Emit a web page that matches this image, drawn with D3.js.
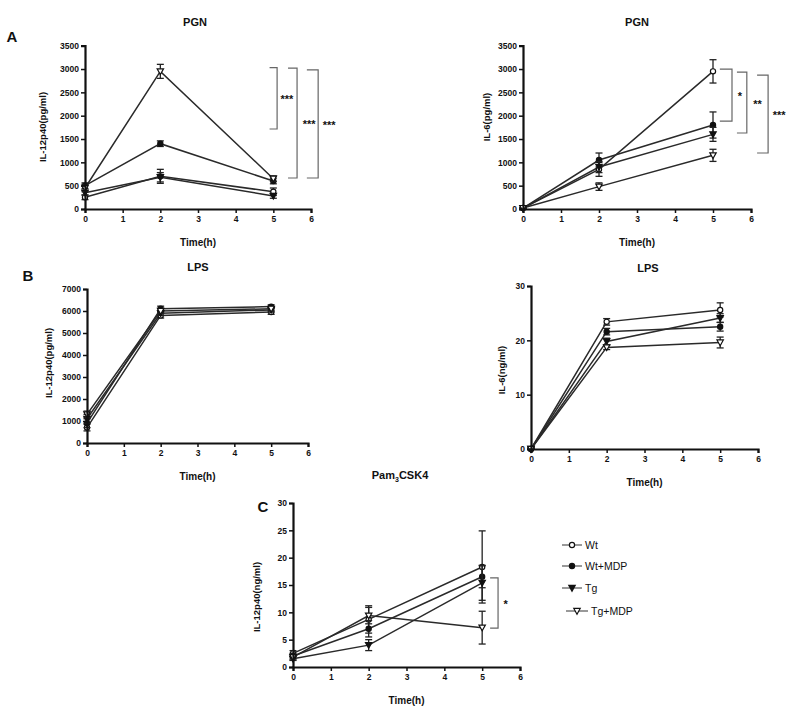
<!DOCTYPE html>
<html><head><meta charset="utf-8">
<script src="https://cdn.jsdelivr.net/npm/d3@7/dist/d3.min.js"></script>
<style>
body{margin:0;background:#fff;}
svg{display:block;}
text{font-family:"Liberation Sans",Arial,sans-serif;fill:#111;}
</style></head><body>
<svg id="c" width="800" height="716"></svg>
<script>
// ---------- data ----------
const times = [0, 2, 5];
const xTicks = [0, 1, 2, 3, 4, 5, 6];
const groups = ["Wt", "Wt+MDP", "Tg", "Tg+MDP"];

// Panel A left: IL-12p40 (pg/ml), PGN
const aL_Wt = [250, 700, 370],   aL_Wt_err = [50, 150, 80];
const aL_WtM = [500, 1400, 600], aL_WtM_err = [60, 60, 60];
const aL_Tg = [350, 680, 280],   aL_Tg_err = [50, 100, 50];
const aL_TgM = [450, 2950, 650], aL_TgM_err = [80, 150, 60];
const aL_yTicks = [0, 500, 1000, 1500, 2000, 2500, 3000, 3500];

// Panel A right: IL-6 (pg/ml), PGN
const aR_Wt = [20, 850, 2950],   aR_Wt_err = [10, 150, 250];
const aR_WtM = [20, 1050, 1800], aR_WtM_err = [10, 150, 280];
const aR_Tg = [20, 900, 1600],   aR_Tg_err = [10, 120, 150];
const aR_TgM = [20, 480, 1150],  aR_TgM_err = [10, 80, 130];
const aR_yTicks = [0, 500, 1000, 1500, 2000, 2500, 3000, 3500];

// Panel B left: IL-12p40 (pg/ml), LPS
const bL_Wt = [700, 5800, 5950],   bL_Wt_err = [150, 120, 100];
const bL_WtM = [900, 6100, 6200],  bL_WtM_err = [200, 120, 80];
const bL_Tg = [1100, 5900, 6050],  bL_Tg_err = [200, 100, 100];
const bL_TgM = [1300, 6000, 6100], bL_TgM_err = [150, 100, 100];
const bL_yTicks = [0, 1000, 2000, 3000, 4000, 5000, 6000, 7000];

// Panel B right: IL-6 (ng/ml), LPS
const bR_Wt = [0, 23.4, 25.6],  bR_Wt_err = [0.2, 0.6, 1.3];
const bR_WtM = [0, 21.6, 22.5], bR_WtM_err = [0.2, 0.6, 0.8];
const bR_Tg = [0, 19.8, 24.1],  bR_Tg_err = [0.2, 0.6, 0.8];
const bR_TgM = [0, 18.7, 19.6], bR_TgM_err = [0.2, 0.4, 1.0];
const bR_yTicks = [0, 10, 20, 30];

// Panel C: IL-12p40 (ng/ml), Pam3CSK4
const c_Wt = [2.5, 8.7, 18.3],  c_Wt_err = [0.5, 2.5, 6.6];
const c_WtM = [2.0, 7.0, 16.5], c_WtM_err = [0.5, 1.5, 2.0];
const c_Tg = [1.5, 4.0, 15.4],  c_Tg_err = [0.3, 1.0, 3.2];
const c_TgM = [1.8, 9.4, 7.2],  c_TgM_err = [0.5, 1.5, 3.0];
const c_yTicks = [0, 5, 10, 15, 20, 25, 30];

// significance brackets (time units, value units)
const aL_brackets = [
  {x0: 4.9, x1: 5.1, y0: 3030, y1: 1715, lx: 5.36, label: "***"},
  {x0: 5.39, x1: 5.63, y0: 3020, y1: 664, lx: 5.95, label: "***"},
  {x0: 5.89, x1: 6.19, y0: 2980, y1: 664, lx: 6.48, label: "***"}
];
const aR_brackets = [
  {x0: 5.18, x1: 5.5, y0: 3000, y1: 1885, lx: 5.71, label: "*"},
  {x0: 5.63, x1: 5.89, y0: 2934, y1: 1629, lx: 6.17, label: "**"},
  {x0: 6.16, x1: 6.45, y0: 2870, y1: 1200, lx: 6.74, label: "***"}
];
const c_brackets = [
  {x0: 5.21, x1: 5.42, y0: 16.3, y1: 7.1, lx: 5.62, label: "*"}
];

// ---------- drawing ----------
const svg = d3.select("#c");
const lineColor = "#2a2a2a";

function marker(g, kind, cx, cy) {
  const r = 2.6;
  if (kind === "Wt" || kind === "Wt+MDP") {
    g.append("circle").attr("cx", cx).attr("cy", cy).attr("r", r)
      .attr("fill", kind === "Wt" ? "#fff" : "#111").attr("stroke", "#111").attr("stroke-width", 1.2);
  } else {
    const s = 3.2;
    g.append("path").attr("d", `M${cx - s},${cy - s * 0.8}L${cx + s},${cy - s * 0.8}L${cx},${cy + s}Z`)
      .attr("fill", kind === "Tg" ? "#111" : "#fff").attr("stroke", "#111").attr("stroke-width", 1.2);
  }
}

function panel(cfg) {
  const x = d3.scaleLinear().domain([0, 6]).range([cfg.x0, cfg.x1]);
  const y = d3.scaleLinear().domain([0, cfg.yMax]).range([cfg.yb, cfg.yt]);
  const g = svg.append("g");

  const series = [
    {k: "Wt", v: cfg.data[0], e: cfg.err[0]},
    {k: "Wt+MDP", v: cfg.data[1], e: cfg.err[1]},
    {k: "Tg", v: cfg.data[2], e: cfg.err[2]},
    {k: "Tg+MDP", v: cfg.data[3], e: cfg.err[3]}
  ];
  const line = d3.line().x((d, i) => x(times[i])).y(d => y(d));
  series.forEach(s => {
    g.append("path").attr("d", line(s.v)).attr("fill", "none")
      .attr("stroke", lineColor).attr("stroke-width", 1.5);
  });
  series.forEach(s => {
    s.v.forEach((v, i) => {
      const cx = x(times[i]);
      const hi = y(v + s.e[i]), lo = y(Math.max(0, v - s.e[i]));
      g.append("line").attr("x1", cx).attr("x2", cx).attr("y1", hi).attr("y2", lo)
        .attr("stroke", "#222").attr("stroke-width", 1.3);
      [hi, lo].forEach(yy => g.append("line").attr("x1", cx - 3.5).attr("x2", cx + 3.5)
        .attr("y1", yy).attr("y2", yy).attr("stroke", "#222").attr("stroke-width", 1.3));
      marker(g, s.k, cx, y(v));
    });
  });

  const xa = g.append("g").attr("transform", `translate(0,${cfg.yb})`)
    .call(d3.axisBottom(x).tickValues(xTicks).tickSize(4).tickPadding(3).tickFormat(d3.format("d")));
  const ya = g.append("g").attr("transform", `translate(${cfg.x0},0)`)
    .call(d3.axisLeft(y).tickValues(cfg.yTicks).tickSize(4).tickPadding(2).tickFormat(d3.format("d")));
  [xa, ya].forEach(a => {
    a.select(".domain").attr("stroke", "#111").attr("stroke-width", 2.2);
    a.selectAll(".tick line").attr("stroke", "#111").attr("stroke-width", 1.5);
    a.selectAll("text").style("font-size", "8.5px").style("font-weight", "bold")
      .style("font-family", "'Liberation Sans',Arial,sans-serif").attr("fill", "#222");
  });

  g.append("text").attr("x", (cfg.x0 + cfg.x1) / 2).attr("y", cfg.yb + 37)
    .attr("text-anchor", "middle").style("font-size", "10px").style("font-weight", "bold").text("Time(h)");
  g.append("text").attr("transform", `translate(${cfg.ylx},${cfg.yly}) rotate(-90)`)
    .attr("text-anchor", "middle").style("font-size", "9.5px").style("font-weight", "bold").text(cfg.ylabel);
  const t = g.append("text").attr("x", cfg.tx).attr("y", cfg.ty).attr("text-anchor", "middle")
    .style("font-size", "11px").style("font-weight", "bold");
  if (cfg.title === "Pam3CSK4") {
    t.append("tspan").text("Pam");
    t.append("tspan").attr("dy", 3).style("font-size", "7px").text("3");
    t.append("tspan").attr("dy", -3).text("CSK4");
  } else t.text(cfg.title);

  (cfg.brackets || []).forEach(b => {
    g.append("path")
      .attr("d", `M${x(b.x0)},${y(b.y0)}H${x(b.x1)}V${y(b.y1)}H${x(b.x0)}`)
      .attr("fill", "none").attr("stroke", "#666").attr("stroke-width", 1.2);
    g.append("text").attr("x", x(b.lx)).attr("y", (y(b.y0) + y(b.y1)) / 2 + 5)
      .attr("text-anchor", "middle").style("font-size", "11px").style("font-weight", "bold").text(b.label);
  });
}

panel({x0: 85, x1: 311, yt: 45.7, yb: 209, yMax: 3500, yTicks: aL_yTicks,
  data: [aL_Wt, aL_WtM, aL_Tg, aL_TgM], err: [aL_Wt_err, aL_WtM_err, aL_Tg_err, aL_TgM_err],
  ylabel: "IL-12p40(pg/ml)", ylx: 46, yly: 127, title: "PGN", tx: 195, ty: 26, brackets: aL_brackets});
panel({x0: 523, x1: 751, yt: 45.7, yb: 209, yMax: 3500, yTicks: aR_yTicks,
  data: [aR_Wt, aR_WtM, aR_Tg, aR_TgM], err: [aR_Wt_err, aR_WtM_err, aR_Tg_err, aR_TgM_err],
  ylabel: "IL-6(pg/ml)", ylx: 490, yly: 117, title: "PGN", tx: 637, ty: 26, brackets: aR_brackets});
panel({x0: 87, x1: 308, yt: 289, yb: 443, yMax: 7000, yTicks: bL_yTicks,
  data: [bL_Wt, bL_WtM, bL_Tg, bL_TgM], err: [bL_Wt_err, bL_WtM_err, bL_Tg_err, bL_TgM_err],
  ylabel: "IL-12p40(pg/ml)", ylx: 52, yly: 363, title: "LPS", tx: 198, ty: 271});
panel({x0: 531, x1: 758, yt: 286, yb: 449, yMax: 30, yTicks: bR_yTicks,
  data: [bR_Wt, bR_WtM, bR_Tg, bR_TgM], err: [bR_Wt_err, bR_WtM_err, bR_Tg_err, bR_TgM_err],
  ylabel: "IL-6(ng/ml)", ylx: 505, yly: 370, title: "LPS", tx: 648, ty: 272});
panel({x0: 293, x1: 520, yt: 503, yb: 667, yMax: 30, yTicks: c_yTicks,
  data: [c_Wt, c_WtM, c_Tg, c_TgM], err: [c_Wt_err, c_WtM_err, c_Tg_err, c_TgM_err],
  ylabel: "IL-12p40(ng/ml)", ylx: 260, yly: 597, title: "Pam3CSK4", tx: 400, ty: 479, brackets: c_brackets});

[["A", 12, 42], ["B", 28, 281], ["C", 263, 512]].forEach(([l, px, py]) =>
  svg.append("text").attr("x", px).attr("y", py).attr("text-anchor", "middle")
    .style("font-size", "15px").style("font-weight", "bold").attr("fill", "#222").text(l));

const lg = svg.append("g");
groups.forEach((k, i) => {
  const yy = [545, 566, 588, 611][i];
  const lx0 = i === 3 ? 566 : 562, lx1 = i === 3 ? 588 : 582;
  lg.append("line").attr("x1", lx0).attr("x2", lx1).attr("y1", yy).attr("y2", yy)
    .attr("stroke", "#555").attr("stroke-width", 1.2);
  marker(lg, k, (lx0 + lx1) / 2, yy);
  lg.append("text").attr("x", lx1 + 3).attr("y", yy + 4).style("font-size", "10.5px").attr("fill", "#444").text(k);
});
</script></body></html>
